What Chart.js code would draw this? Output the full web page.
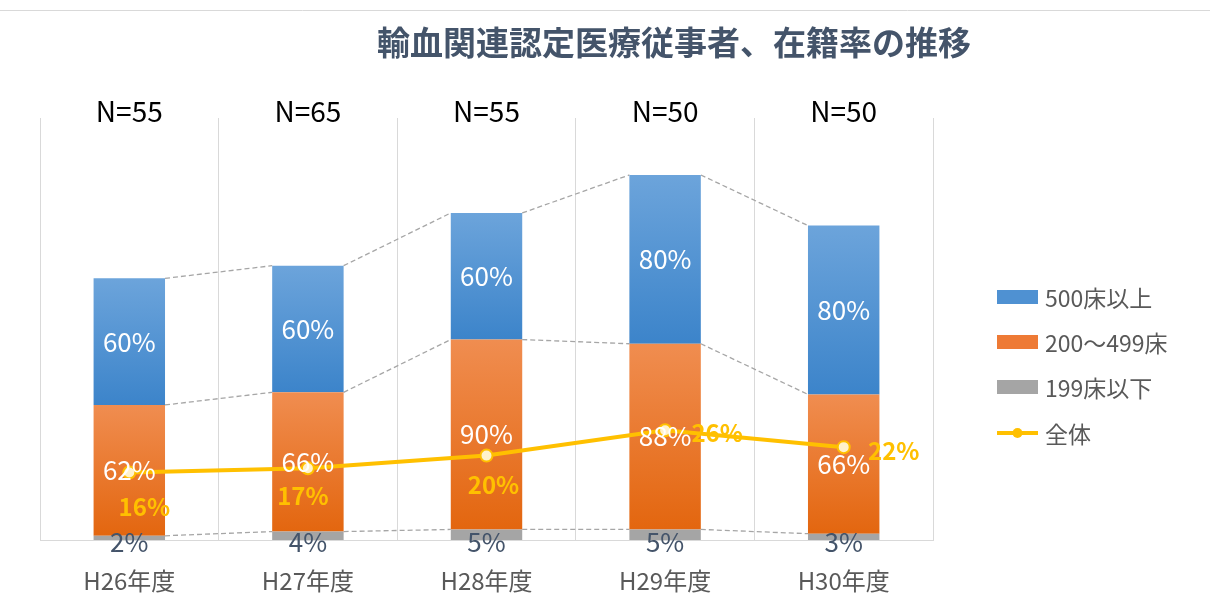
<!DOCTYPE html>
<html>
<head>
<meta charset="utf-8">
<script src="https://cdn.jsdelivr.net/npm/chart.js@4/dist/chart.umd.min.js"></script>
<style>
    html, body { margin: 0; padding: 0; background: #fff; }
    #wrap { width: 1210px; height: 615px; position: relative; }
</style>
</head>
<body>
<div id="wrap"><canvas id="barChart" width="1210" height="615"></canvas></div>
<script>
var categories = ['H26年度', 'H27年度', 'H28年度', 'H29年度', 'H30年度'];
var nLabels = ['N=55', 'N=65', 'N=55', 'N=50', 'N=50'];
var under199 = [2, 4, 5, 5, 3];
var beds200to499 = [62, 66, 90, 88, 66];
var over500 = [60, 60, 60, 80, 80];
var overall = [16, 17, 20, 26, 22];

// label offsets for the 全体 line (px from the point)
var lineLabelOffsets = [[15, 34], [-5, 28], [7, 29], [52, 3], [50, 4]];

var FONT = "'Noto Sans CJK JP', 'Noto Sans', sans-serif";
var barSeries = [under199, beds200to499, over500];

function segmentGradient(c, k, topColor, bottomColor) {
    'use strict';
    var chart = c.chart;
    var y = chart.scales.y;
    if (!chart.chartArea || !y || c.dataIndex === undefined) {
        return bottomColor;
    }
    var i = c.dataIndex;
    var bottom = 0;
    for (var j = 0; j < k; j++) {
        bottom += barSeries[j][i];
    }
    var top = bottom + barSeries[k][i];
    var yTop = y.getPixelForValue(top);
    var yBottom = y.getPixelForValue(bottom);
    if (!isFinite(yTop) || !isFinite(yBottom) || yTop === yBottom) {
        return bottomColor;
    }
    var g = chart.ctx.createLinearGradient(0, yTop, 0, yBottom);
    g.addColorStop(0, topColor);
    g.addColorStop(1, bottomColor);
    return g;
}

var seriesLines = {
    id: 'seriesLines',
    beforeDatasetsDraw: function (chart) {
        var ctx = chart.ctx;
        ctx.save();
        ctx.strokeStyle = '#A6A6A6';
        ctx.lineWidth = 1.3;
        ctx.setLineDash([5, 3]);
        for (var d = 0; d < 3; d++) {
            var bars = chart.getDatasetMeta(d).data;
            for (var i = 0; i < bars.length - 1; i++) {
                var a = bars[i], b = bars[i + 1];
                ctx.beginPath();
                ctx.moveTo(a.x + a.width / 2, a.y);
                ctx.lineTo(b.x - b.width / 2, b.y);
                ctx.stroke();
            }
        }
        ctx.restore();
    }
};

var extras = {
    id: 'extras',
    afterDatasetsDraw: function (chart) {
        var ctx = chart.ctx;
        var xScale = chart.scales.x;
        ctx.save();
        ctx.textAlign = 'center';
        ctx.textBaseline = 'middle';

        // bar labels
        var labelColors = ['#44546A', '#FFFFFF', '#FFFFFF'];
        for (var d = 0; d < 3; d++) {
            var bars = chart.getDatasetMeta(d).data;
            ctx.fillStyle = labelColors[d];
            ctx.font = '26px ' + FONT;
            bars.forEach(function (bar, i) {
                var cy = d === 0 ? bar.base + 2 : (bar.y + bar.base) / 2;
                ctx.fillText(chart.data.datasets[d].data[i] + '%', bar.x, cy);
            });
        }

        // line labels
        var pts = chart.getDatasetMeta(3).data;
        ctx.fillStyle = '#FFC000';
        ctx.font = 'bold 24px ' + FONT;
        pts.forEach(function (p, i) {
            var off = lineLabelOffsets[i];
            ctx.fillText(overall[i] + '%', p.x + off[0], p.y + off[1]);
        });

        // N= labels
        ctx.fillStyle = '#000000';
        ctx.font = '28px ' + FONT;
        nLabels.forEach(function (t, i) {
            ctx.fillText(t, xScale.getPixelForValue(i), 111);
        });
        ctx.restore();
    },
    afterDraw: function (chart) {
        var ctx = chart.ctx;
        ctx.save();
        // top frame line
        ctx.strokeStyle = '#D9D9D9';
        ctx.lineWidth = 1;
        ctx.beginPath();
        ctx.moveTo(0, 10.5);
        ctx.lineTo(1210, 10.5);
        ctx.stroke();

        // title
        ctx.fillStyle = '#44546A';
        ctx.font = 'bold 33px ' + FONT;
        ctx.textAlign = 'center';
        ctx.textBaseline = 'middle';
        ctx.fillText('輸血関連認定医療従事者、在籍率の推移', 674, 42);

        // legend
        var order = [2, 1, 0, 3];
        var ys = [297, 342, 387, 433];
        ctx.textAlign = 'left';
        ctx.font = '23px ' + FONT;
        order.forEach(function (d, n) {
            var ds = chart.data.datasets[d];
            var y = ys[n];
            if (ds.type === 'line') {
                ctx.strokeStyle = ds.borderColor;
                ctx.lineWidth = 4;
                ctx.beginPath();
                ctx.moveTo(997, y);
                ctx.lineTo(1038, y);
                ctx.stroke();
                ctx.fillStyle = ds.borderColor;
                ctx.beginPath();
                ctx.arc(1017.5, y, 5, 0, Math.PI * 2);
                ctx.fill();
            } else {
                ctx.fillStyle = ds.legendColor;
                ctx.fillRect(997, y - 7, 41, 14);
            }
            ctx.fillStyle = '#595959';
            ctx.fillText(ds.label, 1045, y + 1);
        });
        ctx.restore();
    }
};

var ctx = document.getElementById('barChart').getContext('2d');
var barChart = new Chart(ctx, {
    type: 'bar',
    data: {
        labels: categories,
        datasets: [
            {
                label: '199床以下',
                data: under199,
                backgroundColor: '#A5A5A5',
                legendColor: '#A5A5A5',
                order: 1,
                yAxisID: 'y'
            },
            {
                label: '200～499床',
                data: beds200to499,
                backgroundColor: function (c) { return segmentGradient(c, 1, '#F08D50', '#E3660F'); },
                legendColor: '#EE7A35',
                order: 1,
                yAxisID: 'y'
            },
            {
                label: '500床以上',
                data: over500,
                backgroundColor: function (c) { return segmentGradient(c, 2, '#6CA4DB', '#3C84CA'); },
                legendColor: '#4F91D2',
                order: 1,
                yAxisID: 'y'
            },
            {
                type: 'line',
                label: '全体',
                data: overall,
                borderColor: '#FFC000',
                borderWidth: 4,
                pointRadius: 6,
                pointBorderWidth: 2,
                pointBackgroundColor: '#FFF2CC',
                pointBorderColor: '#FFC000',
                tension: 0,
                order: 0,
                yAxisID: 'y1'
            }
        ]
    },
    options: {
        responsive: false,
        animation: false,
        layout: {
            padding: { left: 40, right: 277, top: 118, bottom: 0 }
        },
        plugins: {
            legend: { display: false },
            tooltip: { enabled: false }
        },
        datasets: {
            bar: {
                barPercentage: 0.4,
                categoryPercentage: 1
            }
        },
        scales: {
            x: {
                stacked: true,
                grid: {
                    color: '#D9D9D9',
                    drawTicks: false,
                    offset: true
                },
                border: { color: '#D9D9D9' },
                ticks: {
                    color: '#595959',
                    padding: 26,
                    font: { family: FONT, size: 24 }
                },
                afterFit: function (scale) {
                    scale.height = 75;
                }
            },
            y: {
                stacked: true,
                display: false,
                min: 0,
                max: 200
            },
            y1: {
                display: false,
                min: 0,
                max: 100
            }
        }
    },
    plugins: [seriesLines, extras]
});
</script>
</body>
</html>
